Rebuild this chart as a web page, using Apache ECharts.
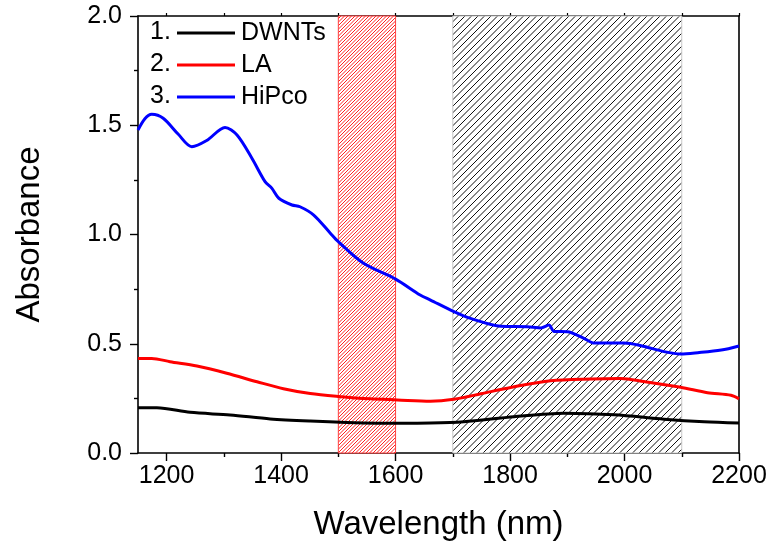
<!DOCTYPE html>
<html>
<head>
<meta charset="utf-8">
<script src="https://cdn.jsdelivr.net/npm/echarts@6/dist/echarts.min.js"></script>
<style>html,body{margin:0;padding:0;background:#fff}#c{width:770px;height:551px}</style>
</head>
<body>
<div id="c"></div>
<script>
// ---- data ----
const seriesNames = ['DWNTs', 'LA', 'HiPco'];
const seriesColors = ['#000000', '#ff0000', '#0000ff'];
const dwnts = [[1150,0.207],[1183,0.207],[1241,0.186],[1311,0.174],[1381,0.156],[1451,0.146],[1515,0.140],[1603,0.136],[1661,0.137],[1719,0.143],[1807,0.166],[1894,0.182],[1982,0.175],[2069,0.155],[2139,0.143],[2200,0.137]];
const la = [[1150,0.433],[1174,0.433],[1206,0.418],[1253,0.398],[1305,0.365],[1358,0.326],[1404,0.294],[1451,0.272],[1500,0.259],[1556,0.248],[1603,0.243],[1661,0.237],[1702,0.246],[1749,0.271],[1801,0.300],[1871,0.331],[1941,0.339],[1994,0.341],[2034,0.327],[2098,0.301],[2145,0.276],[2186,0.264],[2200,0.248]];
const hipco = [[1150,1.478],[1162,1.53],[1174,1.55],[1194,1.532],[1220,1.46],[1244,1.402],[1270,1.43],[1302,1.49],[1323,1.455],[1349,1.349],[1372,1.242],[1384,1.211],[1396,1.166],[1419,1.135],[1433,1.127],[1457,1.089],[1486,1.006],[1500,0.967],[1544,0.868],[1600,0.796],[1643,0.723],[1661,0.700],[1702,0.647],[1731,0.616],[1784,0.580],[1830,0.578],[1854,0.572],[1868,0.586],[1877,0.556],[1900,0.555],[1929,0.525],[1947,0.503],[1999,0.503],[2029,0.491],[2069,0.464],[2098,0.453],[2128,0.459],[2169,0.471],[2200,0.490]];
const redBand = [1500, 1600];
const blackBand = [1700, 2100];
const xMajorTicks = [1200, 1400, 1600, 1800, 2000, 2200];
const xMinorTicks = [1300, 1500, 1700, 1900, 2100];
const xAllTicks = [1200, 1300, 1400, 1500, 1600, 1700, 1800, 1900, 2000, 2100, 2200];
const legendNumbers = ['1.', '2.', '3.'];

// ---- hatch patterns ----
function hatch(color, spacing, tile, lw) {
  const c = document.createElement('canvas');
  c.width = tile; c.height = tile;
  const g = c.getContext('2d');
  g.fillStyle = '#fff'; g.fillRect(0, 0, tile, tile);
  g.strokeStyle = color; g.lineWidth = lw;
  for (let k = -2; k * spacing <= 2 * tile + spacing; k++) {
    const s = k * spacing;
    g.beginPath(); g.moveTo(s + 1, -1); g.lineTo(s - tile - 1, tile + 1); g.stroke();
  }
  return { image: c, repeat: 'repeat' };
}

const font = 'Liberation Sans, Arial, Helvetica, sans-serif';
const chart = echarts.init(document.getElementById('c'), null, { renderer: 'canvas' });

const mkSeries = (name, data, color, extra) => Object.assign({
  name, type: 'line', data, smooth: 0.3, symbol: 'none',
  lineStyle: { color, width: 3 }, itemStyle: { color }, z: 3
}, extra || {});

chart.setOption({
  animation: false,
  backgroundColor: '#fff',
  grid: { left: 138, right: 31, top: 16, bottom: 98 },
  legend: {
    orient: 'vertical', left: 172, top: 13, itemWidth: 58, itemHeight: 3, itemGap: 2,
    icon: 'rect',
    textStyle: { fontFamily: font, fontSize: 25, color: '#000', lineHeight: 30, padding: [0, 0, 0, 1] },
    data: seriesNames
  },
  graphic: legendNumbers.map((t, i) => ({
    type: 'text', left: 150, top: 20 + i * 32,
    style: { text: t, font: '25px ' + font, fill: '#000' }
  })),
  xAxis: [{
    type: 'value', min: 1150, max: 2200, position: 'bottom',
    name: 'Wavelength (nm)', nameLocation: 'middle', nameGap: 55,
    nameTextStyle: { fontFamily: font, fontSize: 33, color: '#000' },
    axisLine: { lineStyle: { color: '#000', width: 1.6 } },
    axisTick: { customValues: xMajorTicks, length: 8, lineStyle: { color: '#000', width: 1.4 } },
    axisLabel: { customValues: xMajorTicks, fontFamily: font, fontSize: 25, color: '#000', margin: 11, formatter: v => String(v) },
    splitLine: { show: false }
  }, {
    type: 'value', min: 1150, max: 2200, position: 'bottom',
    axisLine: { show: false },
    axisTick: { customValues: xMinorTicks, length: 4, lineStyle: { color: '#000', width: 1.4 } },
    axisLabel: { show: false }, splitLine: { show: false }
  }, {
    type: 'value', min: 1150, max: 2200, position: 'top',
    axisLine: { lineStyle: { color: '#000', width: 1.6 } },
    axisTick: { customValues: xAllTicks, length: 3, lineStyle: { color: '#000', width: 1.2 } },
    axisLabel: { show: false }, splitLine: { show: false }
  }],
  yAxis: [{
    type: 'value', min: 0, max: 2, interval: 0.5, position: 'left',
    name: 'Absorbance', nameLocation: 'middle', nameGap: 92,
    nameTextStyle: { fontFamily: font, fontSize: 33, color: '#000' },
    axisLine: { show: true, lineStyle: { color: '#000', width: 1.6 } },
    axisTick: { show: true, length: 8, lineStyle: { color: '#000', width: 1.4 } },
    minorTick: { show: true, splitNumber: 2, length: 4, lineStyle: { color: '#000', width: 1.4 } },
    axisLabel: { fontFamily: font, fontSize: 25, color: '#000', margin: 16, formatter: v => v.toFixed(1) },
    splitLine: { show: false }
  }, {
    type: 'value', min: 0, max: 2, interval: 0.5, position: 'right',
    axisLine: { show: true, lineStyle: { color: '#000', width: 1.6 } },
    axisTick: { show: false }, axisLabel: { show: false }, splitLine: { show: false }
  }],
  series: [
    mkSeries(seriesNames[0], dwnts, seriesColors[0], {
      markArea: {
        silent: true,
        data: [
          [{ xAxis: redBand[0], yAxis: 0, itemStyle: { color: hatch('#ff2020', 3.5, 7, 1), borderColor: '#ff4040', borderWidth: 1 } }, { xAxis: redBand[1], yAxis: 2 }],
          [{ xAxis: blackBand[0], yAxis: 0, itemStyle: { color: hatch('#111111', 6.5, 13, 1), borderColor: '#c8c8c8', borderWidth: 1 } }, { xAxis: blackBand[1], yAxis: 2 }]
        ]
      }
    }),
    mkSeries(seriesNames[1], la, seriesColors[1]),
    mkSeries(seriesNames[2], hipco, seriesColors[2])
  ]
});
</script>
</body>
</html>
